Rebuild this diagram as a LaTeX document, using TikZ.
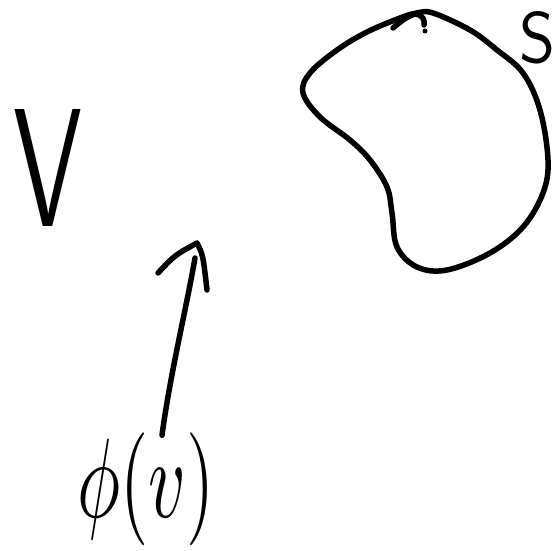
\documentclass[tikz,border=0pt]{standalone}
\usepackage{graphicx}
\begin{document}
\begin{tikzpicture}[x=1pt,y=-1pt,
  ink/.style={line width=5.5pt,line cap=round,line join=round},
  lbl/.style={inner sep=0pt}]
\useasboundingbox (0,0) rectangle (558,551);
% labels
\node[lbl] (V) at (48,168) {\resizebox{69pt}{117pt}{\sffamily V}};
\node[lbl] (S) at (538,38) {\resizebox{36pt}{51pt}{\sffamily S}};
\node[lbl] (phi) at (146,489) {\resizebox*{137pt}{113pt}{$\phi(v)$}};
% the set S
\draw[ink] plot[smooth cycle, tension=0.6] coordinates {
  (417,13) (433,13) (470,30) (497,50) (523,73) (540,110) (548,160)
  (543,193) (523,227) (490,253) (447,270) (417,267) (397,247) (392,213)
  (387,187) (370,160) (350,140) (320,117) (303,93) (310,73) (337,50)
  (367,32) (400,18)};
\draw[ink] (393,28) .. controls (405,18) .. (417,13);
\draw[ink] (415,14) .. controls (423,15) and (425,20) .. (424,25);
\fill (425,31) circle (2.5pt);
% arrow
\coordinate (base) at ([xshift=16pt,yshift=-3pt]phi.north);
\coordinate (tip) at (197,243);
\coordinate (shafttop) at (195,258);
\coordinate (barbL) at (158,273);
\coordinate (barbR) at (207,290);
\draw[ink] (base) .. controls (170,375) and (187,305) .. (shafttop);
\draw[ink] (barbL) .. controls (175,255) .. (tip) .. controls (203,255) .. (barbR);
\end{tikzpicture}
\end{document}
